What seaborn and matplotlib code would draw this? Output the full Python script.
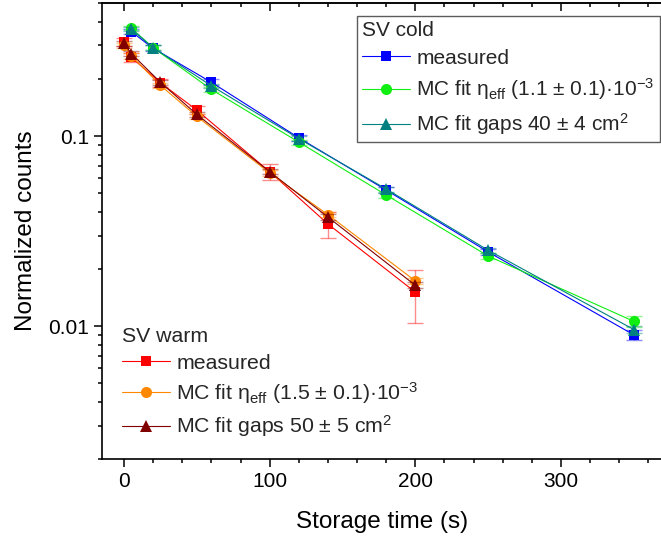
import matplotlib
matplotlib.use("Agg")
import matplotlib.pyplot as plt
from matplotlib.lines import Line2D
import seaborn as sns
import pandas as pd

# ---- data ----
x_cold = [5, 20, 60, 120, 180, 250, 350]
cold_measured = [0.355, 0.290, 0.192, 0.098, 0.052, 0.0246, 0.0090]
cold_measured_err = [0.012, 0.010, 0.007, 0.0035, 0.002, 0.0010, 0.00055]
cold_eta = [0.370, 0.292, 0.176, 0.093, 0.049, 0.0234, 0.0106]
cold_eta_err = [0.010, 0.008, 0.005, 0.0028, 0.0015, 0.0008, 0.0007]
cold_gaps = [0.366, 0.292, 0.184, 0.097, 0.0527, 0.0251, 0.0096]
cold_gaps_err = [0.010, 0.008, 0.005, 0.0030, 0.0016, 0.0008, 0.0004]

x_warm = [0, 5, 25, 50, 100, 140, 200]
warm_measured = [0.313, 0.260, 0.191, 0.137, 0.065, 0.0345, 0.0151]
warm_measured_err = [0.015, 0.013, 0.009, 0.007, 0.0065, 0.0055, 0.0047]
warm_eta = [0.300, 0.265, 0.185, 0.127, 0.064, 0.0386, 0.0173]
warm_eta_err = [0.010, 0.009, 0.006, 0.004, 0.002, 0.0012, 0.0006]
warm_gaps = [0.308, 0.272, 0.192, 0.130, 0.065, 0.0375, 0.0164]
warm_gaps_err = [0.010, 0.009, 0.006, 0.004, 0.002, 0.0012, 0.0006]

cold_labels = ["measured",
               "MC fit η$_{\\mathrm{eff}}$ (1.1 ± 0.1)·10$^{-3}$",
               "MC fit gaps 40 ± 4 cm$^{2}$"]
warm_labels = ["measured",
               "MC fit η$_{\\mathrm{eff}}$ (1.5 ± 0.1)·10$^{-3}$",
               "MC fit gaps 50 ± 5 cm$^{2}$"]

sns.set_theme(style="ticks")
plt.rcParams['font.family'] = ['Liberation Sans', 'DejaVu Sans']
plt.rcParams['mathtext.fontset'] = 'custom'
plt.rcParams['mathtext.rm'] = 'Liberation Sans'
plt.rcParams['mathtext.it'] = 'Liberation Sans:italic'
plt.rcParams['mathtext.bf'] = 'Liberation Sans:bold'

fig = plt.figure(figsize=(6.61, 5.43), dpi=100)
ax = fig.add_axes([0.1545, 0.1547, 0.8485, 0.8392])

series = [
    (x_cold, cold_measured, cold_measured_err, "#0000ff", "s", 7.5),
    (x_cold, cold_eta, cold_eta_err, "#11ee11", "o", 8),
    (x_cold, cold_gaps, cold_gaps_err, "#008080", "^", 8.5),
    (x_warm, warm_measured, warm_measured_err, "#ff0000", "s", 7.5),
    (x_warm, warm_eta, warm_eta_err, "#ff8800", "o", 8),
    (x_warm, warm_gaps, warm_gaps_err, "#800000", "^", 8.5),
]

handles = []
for i, (xs, ys, es, col, mk, ms) in enumerate(series):
    df = pd.DataFrame({"x": xs, "y": ys})
    ax.errorbar(xs, ys, yerr=es, fmt='none', ecolor=col, alpha=0.45,
                elinewidth=1.0, capsize=6, capthick=1.0, zorder=2 + i)
    sns.lineplot(data=df, x="x", y="y", ax=ax, color=col, marker=mk,
                 markersize=ms, markeredgewidth=0, linewidth=0.8,
                 zorder=3 + i, legend=False)
    handles.append(Line2D([], [], color=col, marker=mk, markersize=ms,
                          markeredgewidth=0, linewidth=0.8))

ax.set_yscale('log')
ax.set_xlim(-15, 370)
ax.set_ylim(0.002, 0.5)
ax.set_xticks([0, 100, 200, 300])
ax.set_xticks(range(20, 370, 20), minor=True)
ax.set_yticks([0.01, 0.1])
ax.set_yticklabels(["0.01", "0.1"])
ax.yaxis.set_minor_formatter(matplotlib.ticker.NullFormatter())

for s in ax.spines.values():
    s.set_linewidth(1.2)
    s.set_color('black')
ax.tick_params(axis='both', which='major', labelsize=15, width=1.1,
               length=6, color='black', labelcolor='black')
ax.tick_params(axis='both', which='minor', width=1.1, length=3.2,
               color='black')
ax.tick_params(axis='x', which='both', top=False, direction='out')

# top ticks pointing inward, no labels
sec = ax.secondary_xaxis('top')
sec.set_xticks([0, 100, 200, 300])
sec.set_xticks(range(20, 370, 20), minor=True)
sec.set_xticklabels([])
sec.tick_params(which='both', direction='in', labeltop=False, width=1.1,
                color='black')
sec.tick_params(which='major', length=6)
sec.tick_params(which='minor', length=3.2)
sec.spines['top'].set_linewidth(1.2)

ax.set_xlabel("Storage time (s)", fontsize=17.5, color='black', labelpad=14)
ax.set_ylabel("Normalized counts", fontsize=17.5, color='black', labelpad=8)

leg1 = fig.legend(handles[:3], cold_labels, title="SV cold",
                  loc='upper left', bbox_to_anchor=(0.540, 0.971),
                  frameon=True, fancybox=False, fontsize=15,
                  title_fontsize=15, handlelength=2.3, handletextpad=0.3,
                  borderpad=0.25, labelspacing=0.42, borderaxespad=0,
                  alignment='left')
leg1.get_frame().set_edgecolor('#333333')
leg1.get_frame().set_linewidth(1.0)

leg2 = fig.legend(handles[3:], warm_labels, title="SV warm",
                  loc='upper left', bbox_to_anchor=(0.178, 0.405),
                  frameon=False, fontsize=15.3, title_fontsize=15.3,
                  handlelength=2.25, handletextpad=0.3, borderpad=0.2,
                  labelspacing=0.35, borderaxespad=0, alignment='left')

fig.savefig("out.png", dpi=100)
